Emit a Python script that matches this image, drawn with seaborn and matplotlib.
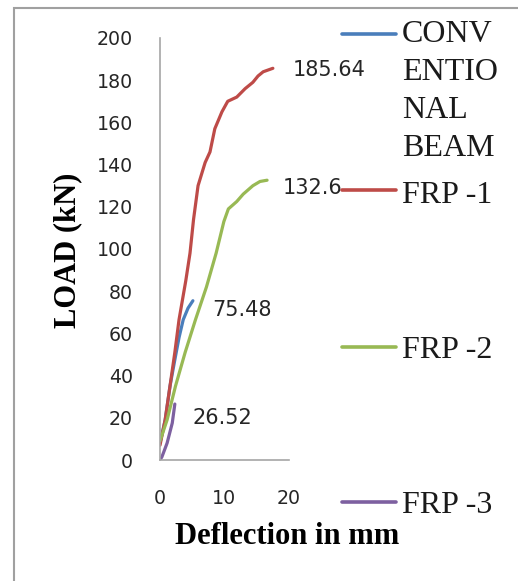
import matplotlib
matplotlib.use("Agg")
import matplotlib.pyplot as plt
from matplotlib.lines import Line2D
from matplotlib.patches import Rectangle
import seaborn as sns
import pandas as pd

# ---- data ----
series_names = ["CONVENTIONAL BEAM", "FRP -1", "FRP -2", "FRP -3"]
legend_labels = ["CONV\nENTIO\nNAL\nBEAM", "FRP -1", "FRP -2", "FRP -3"]
colors = ["#4a7ebb", "#be4b48", "#98b954", "#7d60a0"]

conv_x = [0, 0.8, 1.55, 2.3, 2.95, 3.6, 4.35, 5.1]
conv_y = [8, 19, 35, 47.5, 58, 66.5, 72, 75.48]

frp1_x = [0, 0.8, 1.55, 2.3, 2.95, 4.0, 4.65, 5.2, 5.9, 7.0, 7.75, 8.5, 9.6,
          10.5, 11.9, 13.2, 14.4, 15.2, 16.0, 17.5]
frp1_y = [7, 19, 35, 51, 66.5, 85, 98, 114, 130, 141, 146, 157, 165,
          170, 172, 176, 179, 182, 184, 185.64]

frp2_x = [0, 1.1, 2.4, 3.9, 5.5, 7.2, 8.7, 9.9, 10.6, 11.9, 12.9, 14.4, 15.5, 16.6]
frp2_y = [9, 19, 35, 51, 66.5, 82, 98, 113, 119, 122.5, 126, 130, 132, 132.6]

frp3_x = [0, 0.3, 1.1, 1.9, 2.3]
frp3_y = [0, 1.5, 8, 17.5, 26.52]

end_labels = ["75.48", "185.64", "132.6", "26.52"]
# label offsets from the end point (pixels)
label_offsets = [(19, -9), (20, -2), (16, -8), (18, -14)]

x_ticks = [0, 10, 20]
y_ticks = [0, 20, 40, 60, 80, 100, 120, 140, 160, 180, 200]

xs = [conv_x, frp1_x, frp2_x, frp3_x]
ys = [conv_y, frp1_y, frp2_y, frp3_y]
rows = []
for name, sx, sy in zip(series_names, xs, ys):
    for a, b in zip(sx, sy):
        rows.append({"series": name, "x": a, "y": b})
df = pd.DataFrame(rows)

# ---- style ----
sns.set_style("white")
plt.rcParams["font.family"] = ["DejaVu Sans"]

W, H = 518, 581
fig = plt.figure(figsize=(W / 100, H / 100), dpi=100)
ax = fig.add_axes([160 / W, 121 / H, 129 / W, 422 / H])

sns.lineplot(data=df, x="x", y="y", hue="series", hue_order=series_names,
             palette=colors, sort=False, estimator=None, lw=2.3,
             legend=False, ax=ax)

ax.set_xlim(0, 20)
ax.set_ylim(0, 200)
ax.set_xticks(x_ticks)
ax.set_yticks(y_ticks)
ax.tick_params(axis="both", length=0, labelsize=13.7, labelcolor="#262626")
ax.tick_params(axis="y", pad=19.4)
ax.tick_params(axis="x", pad=21)
for s in ["top", "right"]:
    ax.spines[s].set_visible(False)
for s in ["left", "bottom"]:
    ax.spines[s].set_color("#a6a6a6")
    ax.spines[s].set_linewidth(1.2)

ax.set_xlabel("Deflection in mm", family="Liberation Serif", weight="bold",
              fontsize=22, color="black")
ax.set_ylabel("LOAD (kN)", family="Liberation Serif", weight="bold",
              fontsize=22, color="black")
ax.xaxis.set_label_coords((287 - 160) / 129, (460 - 537) / 422)
ax.xaxis.label.set_va("center")
ax.yaxis.set_label_coords((68 - 160) / 129, (460 - 250) / 422)
ax.yaxis.label.set_va("center")
ax.yaxis.label.set_ha("center")

# end-point data labels
for sx, sy, lab, (dx, dy) in zip(xs, ys, end_labels, label_offsets):
    ax.annotate(lab, xy=(sx[-1], sy[-1]), xytext=(dx, dy),
                textcoords="offset pixels", ha="left", va="center",
                fontsize=15, color="#262626", annotation_clip=False)

# legend (manual, spread along the right side)
def fx(px):
    return px / W

def fy(py):
    return 1 - py / H

handle_y = [34, 190, 347, 502]
# baseline of the last line of each label (pixels from top)
text_base = [156, 203, 358, 513]
for lab, c, hy, tb in zip(legend_labels, colors, handle_y, text_base):
    fig.add_artist(Line2D([fx(342), fx(396)], [fy(hy), fy(hy)], color=c,
                          lw=2.6, transform=fig.transFigure))
    fig.text(fx(402), fy(tb), lab, ha="left", va="baseline",
             family="Liberation Serif", fontsize=23, color="#1a1a1a",
             linespacing=1.41)

# outer frame
fig.add_artist(Rectangle((fx(14), -0.2), 1.2, fy(8) + 0.2, fill=False,
                         edgecolor="#a0a0a0", lw=1.5,
                         transform=fig.transFigure))

fig.savefig("out.png", dpi=100)
